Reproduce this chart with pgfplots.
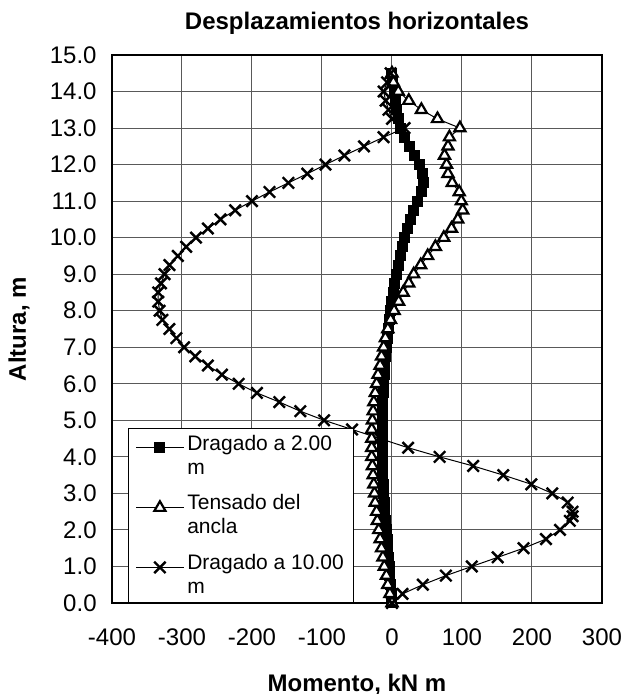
\documentclass[border=0pt]{standalone}
\usepackage{fontspec}
\setmainfont{Liberation Sans}
\usepackage{pgfplots}
\pgfplotsset{compat=1.18}

\pgfplotstableread{
y x
0 0
0.25 -1
0.5 -2
0.75 -3
1.0 -4
1.25 -5
1.5 -6
1.75 -7
2.0 -8
2.25 -9
2.5 -10
2.75 -11
3.0 -12
3.25 -12.5
3.5 -13
3.75 -13.5
4.0 -14
4.25 -14
4.5 -14
4.75 -14
5.0 -14
5.25 -13.5
5.5 -13
5.75 -12.5
6.0 -12
6.25 -11
6.5 -10
6.75 -9
7.0 -8
7.25 -6.5
7.5 -5
7.75 -3.5
8.0 -2
8.25 0
8.5 2
8.75 4
9.0 6
9.25 9
9.5 12
9.75 15
10.0 18
10.25 22
10.5 26
10.75 31
11.0 37
11.25 42
11.5 45
11.75 44
12.0 39
12.25 32
12.5 25
12.75 18
13.0 12
13.25 9
13.5 7
13.75 5
14.0 3
14.25 1
14.5 0
}\dragadoA

\pgfplotstableread{
y x
0 0
0.25 -3
0.5 -6
0.75 -8
1.0 -11
1.25 -13
1.5 -15
1.75 -17
2.0 -19
2.25 -21
2.5 -22
2.75 -24
3.0 -25
3.25 -26
3.5 -27
3.75 -28
4.0 -29
4.25 -29
4.5 -29
4.75 -29
5.0 -28
5.25 -27
5.5 -26
5.75 -24
6.0 -22
6.25 -20
6.5 -17
6.75 -15
7.0 -12
7.25 -9.5
7.5 -6
7.75 -2
8.0 3
8.25 9.5
8.5 16
8.75 24
9.0 31
9.25 41
9.5 51
9.75 62
10.0 74
10.25 85
10.5 94
10.75 101
11.0 99
11.25 96
11.5 86
11.75 80
12.0 78
12.25 75
12.5 80
12.75 82
13.0 97
13.25 65
13.5 42
13.75 24
14.0 9
14.25 2
14.5 0
}\tensado

\pgfplotstableread{
y x
0 0
0.25 15
0.5 44
0.75 77
1.0 114
1.25 151
1.5 188
1.75 220
2.0 240
2.25 254
2.375 258
2.5 258
2.75 251
3.0 229
3.25 199
3.5 159
3.75 116
4.0 68
4.25 23
4.5 -17
4.75 -57
5.0 -97
5.25 -131
5.5 -161
5.75 -193
6.0 -219
6.25 -243
6.5 -263
6.75 -281
7.0 -297
7.25 -308
7.5 -318
7.75 -328
8.0 -332
8.25 -334
8.5 -334
8.75 -330
9.0 -325
9.25 -318
9.5 -306
9.75 -294
10.0 -280
10.25 -263
10.5 -245
10.75 -224
11.0 -200
11.25 -175
11.5 -148
11.75 -121
12.0 -95
12.25 -68
12.5 -40
12.75 -12
13.0 18
13.25 0
13.5 -5
13.75 -9
14.0 -12
14.25 -7
14.5 -2
}\dragadoB

\begin{document}
\begin{tikzpicture}
\begin{axis}[
  name=ax, at={(0pt,0pt)}, anchor=south west,
  scale only axis, width=245pt, height=274pt,
  xmin=-400, xmax=300, ymin=0, ymax=15,
  xtick={-400,-300,...,300}, ytick={0,1,...,15},
  grid=major, major grid style={black!65, line width=0.5pt},
  axis line style={line width=1pt},
  major tick length=0pt,
  /pgf/number format/assume math mode=true,
  ticklabel style={font=\fontsize{12}{14}\selectfont},
  xticklabel style={anchor=base, yshift=-21pt},
  yticklabel style={inner sep=0pt, anchor=east, xshift=-7.5pt,
     /pgf/number format/.cd, fixed, fixed zerofill, precision=1},
  title={Desplazamientos horizontales},
  every axis title/.style={at={(axis description cs:0.5,1)}, anchor=base, yshift=12.85pt,
     font=\bfseries\fontsize{12}{14}\selectfont},
  xlabel={Momento, kN m},
  every axis x label/.style={at={(axis description cs:0.5,0)}, anchor=base, yshift=-44.3pt,
     font=\bfseries\fontsize{12}{14}\selectfont},
  ylabel={Altura, m},
  every axis y label/.style={at={(axis description cs:0,0.5)}, xshift=-43pt, rotate=90, anchor=base,
     font=\bfseries\fontsize{12}{14}\selectfont},
  legend cell align=left,
  legend style={at={(axis description cs:0.0327,0)}, anchor=south west,
     font=\fontsize{10.5}{12}\selectfont, draw=black, line width=0.5pt,
     inner xsep=3.5pt, inner ysep=1pt, row sep=4.75pt,
     nodes={align=left, inner xsep=1.5pt}},
  legend image code/.code={\draw[mark repeat=2,mark phase=2,#1]
     plot coordinates {(0cm,4pt) (0.42cm,4pt) (0.84cm,4pt)};},
]
\addplot[black, line width=0.5pt, mark=square*, mark size=2.5pt,
  mark options={solid, fill=black, line width=0.5pt}] table[x=x,y=y] {\dragadoA};
\addlegendentry{Dragado a 2.00\\m}
\addplot[black, line width=0.5pt, mark=triangle*, mark size=3.2pt,
  mark options={solid, fill=white, line width=1.1pt}] table[x=x,y=y] {\tensado};
\addlegendentry{Tensado del\\ancla}
\addplot[black, line width=0.5pt, mark=x, mark size=4pt,
  mark options={solid, line width=1.2pt}] table[x=x,y=y] {\dragadoB};
\addlegendentry{Dragado a 10.00\\m}
\end{axis}
\pgfresetboundingbox
\path[use as bounding box] (-56pt,-45.5pt) rectangle (256pt,301.5pt);
\end{tikzpicture}
\end{document}
